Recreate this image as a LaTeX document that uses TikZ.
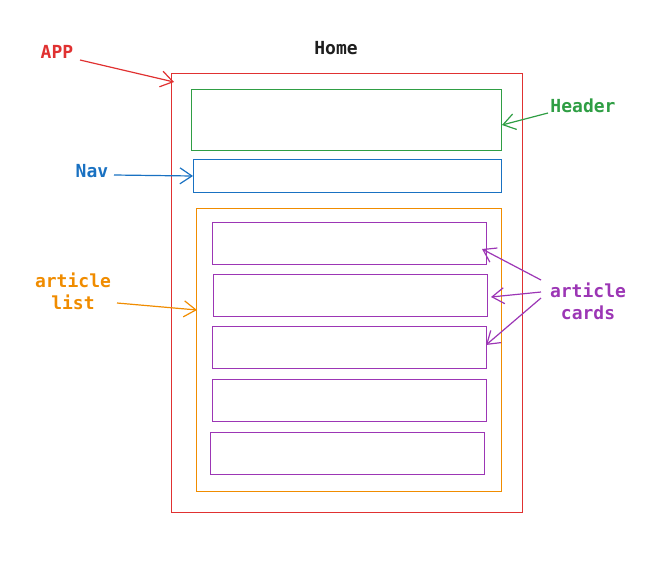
\documentclass[tikz,border=0pt]{standalone}
\usepackage{fontspec}
\setmonofont{DejaVu Sans Mono}
\usetikzlibrary{arrows.meta}
\definecolor{cred}{HTML}{E03131}
\definecolor{cgreen}{HTML}{2F9E44}
\definecolor{cblue}{HTML}{1971C2}
\definecolor{corange}{HTML}{F08C00}
\definecolor{cpurple}{HTML}{9C36B5}
\definecolor{cblack}{HTML}{1E1E1E}
\begin{document}
\begin{tikzpicture}[x=1pt,y=-1pt,
  lbl/.style={font=\fontsize{18}{22}\selectfont\ttfamily\bfseries, align=center, inner sep=0pt},
  box/.style={draw, line width=1.2pt},
  conn/.style={line width=1.2pt, -{Straight Barb[length=12pt,width=16pt,line width=1.2pt]}}]
\useasboundingbox (0,0) rectangle (672,566);
% boxes
\node[box, cred, minimum width=351pt, minimum height=439pt, anchor=north west] (app) at (171,73) {};
\node[box, cgreen, minimum width=310pt, minimum height=61pt, anchor=north west] (header) at (191,89) {};
\node[box, cblue, minimum width=308pt, minimum height=33pt, anchor=north west] (nav) at (193,159) {};
\node[box, corange, minimum width=305pt, minimum height=283pt, anchor=north west] (list) at (196,208) {};
\node[box, cpurple, minimum width=274pt, minimum height=42pt, anchor=north west] (c1) at (212,222) {};
\node[box, cpurple, minimum width=274pt, minimum height=42pt, anchor=north west] (c2) at (213,274) {};
\node[box, cpurple, minimum width=274pt, minimum height=42pt, anchor=north west] (c3) at (212,326) {};
\node[box, cpurple, minimum width=274pt, minimum height=42pt, anchor=north west] (c4) at (212,379) {};
\node[box, cpurple, minimum width=274pt, minimum height=42pt, anchor=north west] (c5) at (210,432) {};
% labels
\node[lbl, cblack] (home) at (336,48) {Home};
\node[lbl, cred] (lapp) at (57,52) {APP};
\node[lbl, cgreen] (lheader) at (583,106) {Header};
\node[lbl, cblue] (lnav) at (92,171) {Nav};
\node[lbl, corange] (llist) at (73,291) {article\\list};
\node[lbl, cpurple] (lcards) at (588,301) {article\\cards};
% arrow coordinates
\coordinate (a1s) at (80,60);   \coordinate (a1e) at (174,82);
\coordinate (a2s) at (548,113); \coordinate (a2e) at (502,125);
\coordinate (a3s) at (114,175); \coordinate (a3e) at (193,176);
\coordinate (a4s) at (117,303); \coordinate (a4e) at (197,310);
\coordinate (a5s) at (541,280); \coordinate (a5e) at (482,249);
\coordinate (a6s) at (541,292); \coordinate (a6e) at (491,297);
\coordinate (a7s) at (541,298); \coordinate (a7e) at (486,345);
\draw[conn, cred] (a1s) -- (a1e);
\draw[conn, cgreen] (a2s) -- (a2e);
\draw[conn, cblue] (a3s) -- (a3e);
\draw[conn, corange] (a4s) -- (a4e);
\draw[conn, cpurple] (a5s) -- (a5e);
\draw[conn, cpurple] (a6s) -- (a6e);
\draw[conn, cpurple] (a7s) -- (a7e);
\end{tikzpicture}
\end{document}
